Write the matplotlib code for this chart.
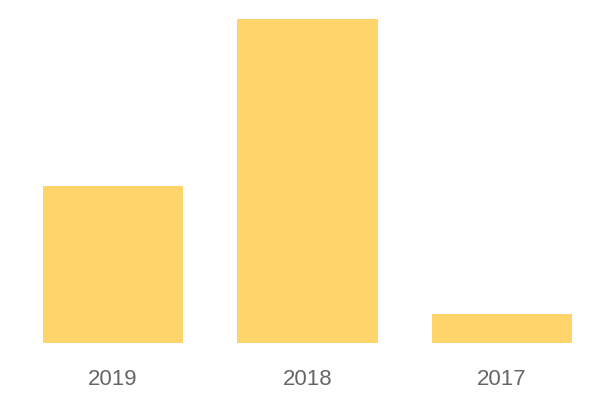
import matplotlib
matplotlib.use('Agg')
import matplotlib.pyplot as plt

years = ['2019', '2018', '2017']
values = [157, 324, 29]

fig = plt.figure(figsize=(6, 4), dpi=100)
ax = fig.add_axes([43 / 600, 57 / 400, 529 / 600, 324 / 400])

x = range(len(years))
ax.bar(x, values, width=0.72, color='#FFD56B')
ax.set_xlim(-0.36, 2.36)
ax.set_ylim(0, max(values))

ax.set_xticks(list(x))
ax.set_xticklabels(years, fontsize=16, color='#666666', family='Liberation Sans')
ax.tick_params(axis='x', length=0, pad=19)
ax.set_yticks([])
for s in ax.spines.values():
    s.set_visible(False)

fig.savefig('out.png', dpi=100)
